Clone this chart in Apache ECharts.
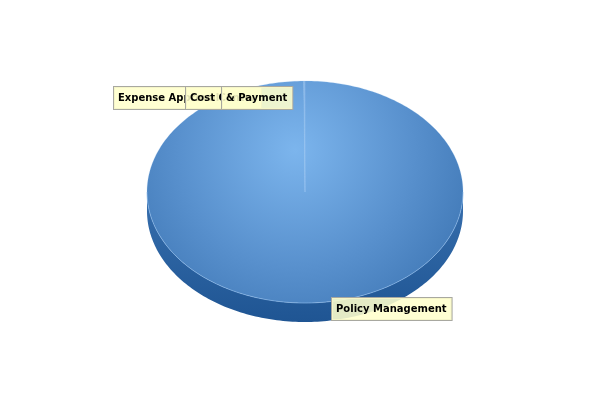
<!DOCTYPE html>
<html>
<head>
<meta charset="utf-8">
<script src="https://cdn.jsdelivr.net/npm/echarts@6/dist/echarts.min.js"></script>
<style>html,body{margin:0;padding:0;background:#fff}#c{width:600px;height:400px}</style>
</head>
<body>
<div id="c"></div>
<script>
// ---- data ----
const categories = ["Policy Management", "Expense Approval", "Cost Center", "& Payment"];
const values = [2400, 1, 1, 1];

// ---- layout (style only) ----
const CX = 305, CY = 192, RX = 158, RY = 111, DEPTH = 19;
const labelOffsets = [[26, 6], [-190, 17], [-118, 17], [-83, 17]];

const total = values.reduce((a, b) => a + b, 0);
const starts = [];
{ let c = 0; values.forEach(v => { starts.push(c); c += v; }); }
function angles(i) {
  const a = -Math.PI / 2 + starts[i] / total * Math.PI * 2;
  const b = -Math.PI / 2 + (starts[i] + values[i]) / total * Math.PI * 2;
  return [a, b];
}
function arc(a, b, cy) {
  const pts = [];
  const n = Math.max(2, Math.ceil(Math.abs(b - a) / 0.02));
  for (let k = 0; k <= n; k++) {
    const t = a + (b - a) * k / n;
    pts.push([CX + RX * Math.cos(t), cy + RY * Math.sin(t)]);
  }
  return pts;
}

const topFill = {
  type: 'radial', x: 295, y: 150, r: 215, global: true,
  colorStops: [{offset: 0, color: '#7cb5ed'}, {offset: 0.55, color: '#5890cd'}, {offset: 1, color: '#3a72b0'}]
};
const sideFill = {
  type: 'linear', x: 0, y: CY, x2: 0, y2: CY + RY + DEPTH, global: true,
  colorStops: [{offset: 0, color: '#376fae'}, {offset: 1, color: '#1f5593'}]
};

const seriesData = values.map((v, i) => ({ name: categories[i], value: v }));

const option = {
  animation: false,
  backgroundColor: '#ffffff',
  series: [
    {
      type: 'custom', coordinateSystem: 'none', z: 1, silent: true,
      data: seriesData,
      renderItem: function (params, api) {
        const i = params.dataIndex;
        let [a, b] = angles(i);
        a = Math.max(a, 0); b = Math.min(b, Math.PI);
        if (b <= a) return { type: 'group', children: [] };
        const pts = arc(a, b, CY).concat(arc(b, a, CY + DEPTH));
        return { type: 'polygon', shape: { points: pts }, style: { fill: sideFill, stroke: null } };
      }
    },
    {
      type: 'custom', coordinateSystem: 'none', z: 2, silent: true,
      data: seriesData,
      renderItem: function (params, api) {
        const i = params.dataIndex;
        const [a, b] = angles(i);
        const pts = [[CX, CY]].concat(arc(a, b, CY));
        return {
          type: 'group', children: [
            { type: 'polygon', shape: { points: pts }, style: { fill: topFill, stroke: 'rgba(150,195,240,0.2)', lineWidth: 1 } },
            { type: 'polyline', shape: { points: arc(Math.max(a, 0), Math.max(Math.min(b, Math.PI), Math.max(a, 0)), CY) },
              style: { fill: null, stroke: 'rgba(140,185,235,0.5)', lineWidth: 1 } }
          ]
        };
      }
    },
    {
      type: 'custom', coordinateSystem: 'none', z: 3, silent: true,
      data: seriesData,
      renderItem: function (params, api) {
        const i = params.dataIndex;
        const [a, b] = angles(i);
        const m = (a + b) / 2;
        const px = CX + RX * Math.cos(m), py = CY + RY * Math.sin(m);
        const off = labelOffsets[i];
        return {
          type: 'text',
          x: Math.round(px + off[0]), y: Math.round(py + off[1]),
          style: {
            text: categories[i],
            fill: '#000', font: 'bold 10px "DejaVu Sans"',
            align: 'left', verticalAlign: 'middle',
            backgroundColor: 'rgba(255,255,204,0.88)',
            borderColor: '#a8a8a0', borderWidth: 1,
            padding: [5, 5, 5, 4], lineHeight: 12
          }
        };
      }
    }
  ]
};
echarts.init(document.getElementById('c')).setOption(option);
</script>
</body>
</html>
